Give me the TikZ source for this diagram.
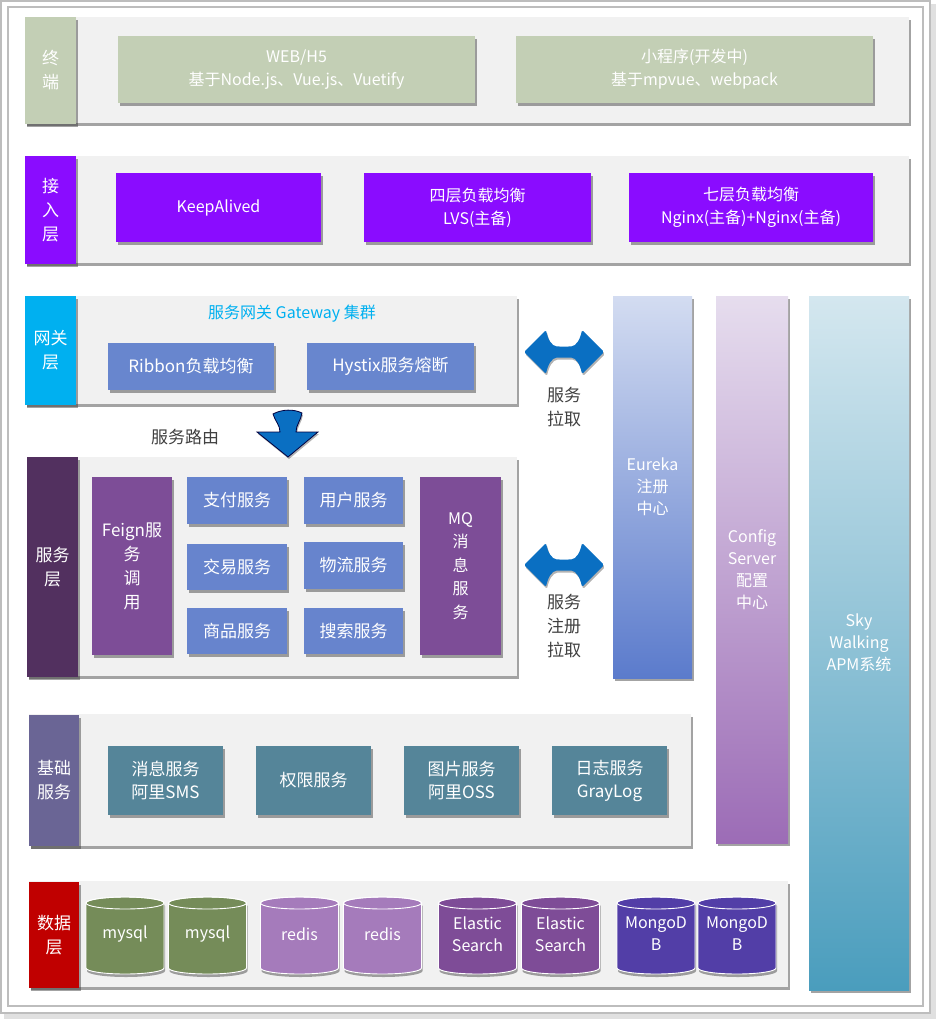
\documentclass[tikz,border=0pt]{standalone}
\usepackage{fontspec}
\setmainfont{Noto Sans CJK SC}
\usetikzlibrary{shadows}
\definecolor{sage}{HTML}{C3CFB5}
\definecolor{vivid}{HTML}{8A0CFF}
\definecolor{cyanl}{HTML}{00B0F0}
\definecolor{gwbox}{HTML}{6886CE}
\definecolor{svlabel}{HTML}{52305F}
\definecolor{feign}{HTML}{7D4D97}
\definecolor{svbox}{HTML}{6784CD}
\definecolor{baselabel}{HTML}{6A6595}
\definecolor{basebox}{HTML}{558599}
\definecolor{datalabel}{HTML}{C00000}
\definecolor{mysqlc}{HTML}{758C59}
\definecolor{redisc}{HTML}{A57BBB}
\definecolor{elasticc}{HTML}{7E4C97}
\definecolor{mongoc}{HTML}{523EA7}
\definecolor{arrowc}{HTML}{0A6FC2}
\definecolor{panelc}{HTML}{F1F1F1}
\definecolor{eutop}{HTML}{D3DCF1}
\definecolor{eubot}{HTML}{5B7BCC}
\definecolor{cftop}{HTML}{E6DDEE}
\definecolor{cfbot}{HTML}{9C6CB6}
\definecolor{sktop}{HTML}{D4E7EF}
\definecolor{skbot}{HTML}{4A9DBD}
\definecolor{darktext}{HTML}{404040}
\definecolor{frame}{HTML}{BDBDBD}
\newcommand\dbcyl[4]{%
  \path[fill=#3, draw=white, line width=0.9pt, drop shadow={shadow xshift=1pt, shadow yshift=-3pt, opacity=.35, fill=black}]
    (#2-39,903) -- (#2-39,968) arc[start angle=180, end angle=0, x radius=39, y radius=6]
    -- (#2+39,903) arc[start angle=0, end angle=-180, x radius=39, y radius=6] -- cycle;
  \draw[white, line width=0.9pt] (#2,903) ellipse [x radius=39, y radius=6];
  \node[txt] (#1) at (#2,934) {#4};
}
\begin{document}
\begin{tikzpicture}[x=1pt,y=-1pt,
  shd/.style={drop shadow={shadow xshift=1.5pt, shadow yshift=-3pt, opacity=.45, fill=black!80}},
  panel/.style={fill=panelc, inner sep=0pt, shd},
  lab/.style={inner sep=0pt, text=white, align=center, font=\fontsize{17}{24}\selectfont, shd},
  bx/.style={inner sep=0pt, text=white, align=center, font=\fontsize{17}{23}\selectfont, shd},
  txt/.style={inner sep=0pt, text=white, align=center, font=\fontsize{16}{22}\selectfont},
  col/.style={inner sep=0pt, text=white, align=center, font=\fontsize{16}{22}\selectfont, shd},
  dark/.style={inner sep=0pt, text=darktext, align=center, font=\fontsize{17}{24}\selectfont}
]
\useasboundingbox (0,0) rectangle (936,1019);
\fill[white] (0,0) rectangle (936,1019);
\fill[black!12] (931,4) rectangle (936,1016);
\fill[black!12] (4,1014) rectangle (936,1019);
\draw[frame, line width=1.2pt] (1,1) rectangle (930,1013);
\draw[frame, line width=1.2pt] (8,7) rectangle (923,1006);

% right columns
\node[col, top color=eutop, bottom color=eubot, minimum width=79pt, minimum height=382pt] (eureka) at (652.5,487) {Eureka\\注册\\中心};
\node[col, top color=cftop, bottom color=cfbot, minimum width=72pt, minimum height=547pt] (config) at (752,569.5) {Config\\Server\\配置\\中心};
\node[col, top color=sktop, bottom color=skbot, minimum width=100pt, minimum height=694pt] (sky) at (859,643) {Sky\\Walking\\APM系统};

% row 1
\node[panel, minimum width=884pt, minimum height=106pt] (p1) at (467,70) {};
\node[lab, fill=sage, minimum width=51pt, minimum height=107pt] (l1) at (50.5,70.5) {终\\端};
\node[bx, fill=sage, minimum width=357pt, minimum height=67pt, font=\fontsize{16}{23}\selectfont] (web) at (296.5,69.5) {WEB/H5\\基于Node.js、Vue.js、Vuetify};
\node[bx, fill=sage, minimum width=357pt, minimum height=67pt, font=\fontsize{16}{23}\selectfont] (mini) at (694.5,69.5) {小程序(开发中)\\基于mpvue、webpack};

% row 2
\node[panel, minimum width=884pt, minimum height=107pt] (p2) at (467,209.5) {};
\node[lab, fill=vivid, minimum width=51pt, minimum height=108pt] (l2) at (50.5,210) {接\\入\\层};
\node[bx, fill=vivid, minimum width=205pt, minimum height=69pt, font=\fontsize{16}{23}\selectfont] (keep) at (218.5,207.5) {KeepAlived};
\node[bx, fill=vivid, minimum width=227pt, minimum height=69pt, font=\fontsize{16}{23}\selectfont] (four) at (477.5,207.5) {四层负载均衡\\LVS(主备)};
\node[bx, fill=vivid, minimum width=244pt, minimum height=69pt, font=\fontsize{16}{23}\selectfont] (seven) at (751,207.5) {七层负载均衡\\Nginx(主备)+Nginx(主备)};

% row 3 gateway
\node[panel, minimum width=492pt, minimum height=108pt] (p3) at (271,350) {};
\node[lab, fill=cyanl, minimum width=51pt, minimum height=109pt] (l3) at (50.5,350.5) {网关\\层};
\node[inner sep=0pt, text=cyanl, font=\fontsize{16}{22}\selectfont] (gwtitle) at (292,314) {服务网关 Gateway 集群};
\node[bx, fill=gwbox, minimum width=166pt, minimum height=47pt] (ribbon) at (191,366.5) {Ribbon负载均衡};
\node[bx, fill=gwbox, minimum width=167pt, minimum height=47pt] (hystix) at (390.5,366.5) {Hystix服务熔断};

% row 4 services
\node[panel, minimum width=490pt, minimum height=219pt] (p4) at (272,566.5) {};
\node[lab, fill=svlabel, minimum width=51pt, minimum height=220pt] (l4) at (52.5,567) {服务\\层};
\node[bx, fill=feign, minimum width=80pt, minimum height=178pt, font=\fontsize{17}{24}\selectfont] (feign) at (132,566) {Feign服\\务\\调\\用};
\node[bx, fill=feign, minimum width=81pt, minimum height=178pt, font=\fontsize{16}{23.5}\selectfont] (mq) at (460.5,566) {MQ\\消\\息\\服\\务};
\node[bx, fill=svbox, minimum width=100pt, minimum height=47pt] (pay) at (237,500.5) {支付服务};
\node[bx, fill=svbox, minimum width=99pt, minimum height=47pt] (user) at (353.5,500.5) {用户服务};
\node[bx, fill=svbox, minimum width=100pt, minimum height=46pt] (trade) at (237,567) {交易服务};
\node[bx, fill=svbox, minimum width=99pt, minimum height=47pt] (logi) at (353.5,565.5) {物流服务};
\node[bx, fill=svbox, minimum width=100pt, minimum height=46pt] (goods) at (237,631) {商品服务};
\node[bx, fill=svbox, minimum width=99pt, minimum height=46pt] (search) at (353.5,631) {搜索服务};

% row 5 base
\node[panel, minimum width=662pt, minimum height=132pt] (p5) at (360,780) {};
\node[lab, fill=baselabel, minimum width=50pt, minimum height=131pt] (l5) at (54,780.5) {基础\\服务};
\node[bx, fill=basebox, minimum width=115pt, minimum height=69pt] (msg) at (165.5,780.5) {消息服务\\阿里SMS};
\node[bx, fill=basebox, minimum width=115pt, minimum height=69pt] (auth) at (313.5,780.5) {权限服务};
\node[bx, fill=basebox, minimum width=115pt, minimum height=69pt] (img) at (461.5,780.5) {图片服务\\阿里OSS};
\node[bx, fill=basebox, minimum width=115pt, minimum height=69pt] (log) at (609.5,780.5) {日志服务\\GrayLog};

% row 6 data
\node[panel, minimum width=759pt, minimum height=106pt] (p6) at (408.5,934) {};
\node[lab, fill=datalabel, minimum width=50pt, minimum height=106pt] (l6) at (54,935) {数据\\层};
\dbcyl{mysqlA}{125}{mysqlc}{mysql}
\dbcyl{mysqlB}{207.5}{mysqlc}{mysql}
\dbcyl{redisA}{299.5}{redisc}{redis}
\dbcyl{redisB}{382.5}{redisc}{redis}
\dbcyl{esA}{477.5}{elasticc}{Elastic\\Search}
\dbcyl{esB}{560.5}{elasticc}{Elastic\\Search}
\dbcyl{mgA}{656}{mongoc}{MongoD\\B}
\dbcyl{mgB}{737}{mongoc}{MongoD\\B}

% double arrows
\foreach \cy/\nm in {352/dA, 565/dB}{
  \begin{scope}[shift={(564,\cy)}]
    \fill[arrowc, rounded corners=1.5pt, drop shadow={shadow xshift=1pt, shadow yshift=-2pt, opacity=.3, fill=black}]
      (-40,0) -- (-18,-22) .. controls (-16,-12) and (-12,-6) .. (-6,-5.5) -- (6,-5.5)
      .. controls (12,-6) and (16,-12) .. (18,-22) -- (40,0) -- (18,22)
      .. controls (16,12) and (12,6) .. (6,5.5) -- (-6,5.5)
      .. controls (-12,6) and (-16,12) .. (-18,22) -- cycle;
    \coordinate (\nm) at (0,0);
  \end{scope}
}
\node[dark] (pull) at (564,407) {服务\\拉取};
\node[dark] (regpull) at (564,626) {服务\\注册\\拉取};

% down arrow
\begin{scope}[shift={(288,0)}]
  \path[fill=arrowc, draw=black!75!blue, line width=0.8pt, drop shadow={shadow xshift=1pt, shadow yshift=-2pt, opacity=.3, fill=black}]
    (-15,414) .. controls (-6,409) and (6,409) .. (14,413)
    .. controls (13,420) and (8,425) .. (8,432) -- (30,432) -- (0,457) -- (-31,432) -- (-8,432)
    .. controls (-8,425) and (-13,421) .. (-15,414) -- cycle;
  \coordinate (route) at (0,435);
\end{scope}
\node[dark] (routetxt) at (185,437) {服务路由};
\end{tikzpicture}
\end{document}
